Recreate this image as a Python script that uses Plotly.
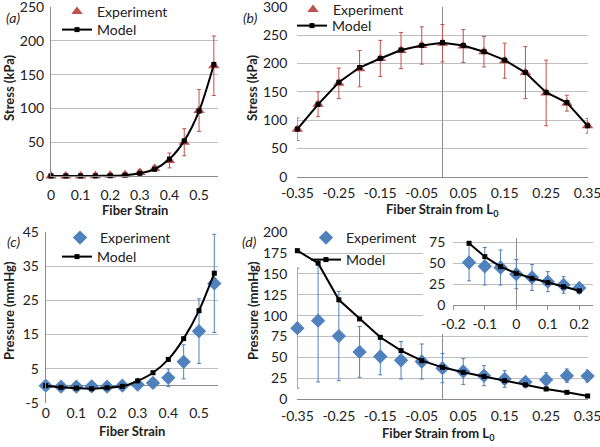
import plotly.graph_objects as go

# ---------------- data ----------------
strain_a = [0, 0.05, 0.1, 0.15, 0.2, 0.25, 0.3, 0.35, 0.4, 0.45, 0.5, 0.55]
stress_exp_a = [0, 0, 0, 0.3, 1, 2, 5, 11, 23, 50, 97, 163]
stress_err_a = [0.5, 0.5, 0.5, 1, 1.5, 3, 4, 4, 11, 20, 31, 44]
stress_model_a = [0, 0, 0, 0.1, 0.4, 1.2, 4, 10, 25, 52, 96, 165]

strain_b = [-0.35, -0.3, -0.25, -0.2, -0.15, -0.1, -0.05, 0, 0.05, 0.1, 0.15, 0.2, 0.25, 0.3, 0.35]
stress_exp_b = [84, 128, 165, 191, 209, 223, 232, 236, 231, 221, 205, 184, 148, 130, 90]
stress_err_b = [20, 22, 27, 32, 32, 32, 33, 33, 29, 27, 31, 46, 58, 14, 13]
stress_model_b = [84, 128, 167, 193, 209, 224, 232, 237, 232, 221, 206, 184, 149, 131, 90]

pressure_exp_c = [0, -0.3, -0.3, -0.2, -0.3, 0, 0.3, 0.8, 2.3, 7, 16, 30]
pressure_err_c = [0.3, 0.3, 0.3, 0.3, 0.3, 0.3, 0.6, 1, 2.6, 5, 9.5, 14.4]
pressure_model_c = [0, -0.5, -0.7, -0.9, -0.6, -0.2, 1.4, 3.8, 7.7, 13.8, 22, 33]

pressure_exp_d = [85, 94, 75.5, 56.5, 51, 46.5, 45, 37, 33, 28, 24, 20.5, 23, 28, 27.5]
pressure_err_d = [72, 73.5, 53.5, 30.5, 22, 22.5, 21, 17.5, 15.5, 12, 10, 4.5, 8.5, 8, 7.5]
pressure_model_d = [178, 163, 119, 96, 74, 58, 46, 38, 32, 27, 22, 17, 12, 8, 3.6]

inset_from, inset_to = -0.15, 0.2

ticks_a_vals = [0, 0.1, 0.2, 0.3, 0.4, 0.5]
ticks_a_text = ["0", "0.1", "0.2", "0.3", "0.4", "0.5"]
ticks_b_vals = [-0.35, -0.25, -0.15, -0.05, 0.05, 0.15, 0.25, 0.35]
ticks_b_text = ["-0.35", "-0.25", "-0.15", "-0.05", "0.05", "0.15", "0.25", "0.35"]
ticks_c_yvals = [-5, 5, 15, 25, 35, 45]
ticks_c_ytext = ["-5", "5", "15", "25", "35", "45"]
ticks_in_vals = [-0.2, -0.1, 0, 0.1, 0.2]
ticks_in_text = ["-0.2", "-0.1", "0", "0.1", "0.2"]

# ---------------- style ----------------
W, H = 600, 447
RED = "#C0504D"
BLUE = "#4F81BD"
GRID = "#BEBEBE"
AXL = "#8C8C8C"
FONT = "Lato"
TICKF = dict(family=FONT, size=14, color="#222")


def px_x(a, b):
    return [a / W, b / W]


def px_y(top, bottom):
    return [1 - bottom / H, 1 - top / H]


fig = go.Figure()


def exp_trace(x, y, err, color, symbol, size, xa, ya, legend):
    return go.Scatter(
        x=x, y=y, mode="markers", name="Experiment", cliponaxis=False,
        marker=dict(symbol=symbol, size=size, color=color),
        error_y=dict(type="data", array=err, color=color, thickness=1, width=2),
        xaxis=xa, yaxis=ya, legend=legend,
    )


def model_trace(x, y, xa, ya, legend, shape):
    return go.Scatter(
        x=x, y=y, mode="lines+markers", name="Model", cliponaxis=False,
        line=dict(color="black", width=2, shape=shape, smoothing=0.8),
        marker=dict(symbol="square", size=5, color="black"),
        xaxis=xa, yaxis=ya, legend=legend,
    )


# (a)
fig.add_trace(exp_trace(strain_a, stress_exp_a, stress_err_a, RED, "triangle-up", 10, "x", "y", "legend"))
fig.add_trace(model_trace(strain_a, stress_model_a, "x", "y", "legend2", "spline"))
# (b)
fig.add_trace(exp_trace(strain_b, stress_exp_b, stress_err_b, RED, "triangle-up", 10, "x2", "y2", "legend3"))
fig.add_trace(model_trace(strain_b, stress_model_b, "x2", "y2", "legend4", "linear"))
# (c)
fig.add_trace(exp_trace(strain_a, pressure_exp_c, pressure_err_c, BLUE, "diamond", 11, "x3", "y3", "legend5"))
fig.add_trace(model_trace(strain_a, pressure_model_c, "x3", "y3", "legend6", "spline"))
# (d)
fig.add_trace(exp_trace(strain_b, pressure_exp_d, pressure_err_d, BLUE, "diamond", 11, "x4", "y4", "legend7"))
fig.add_trace(model_trace(strain_b, pressure_model_d, "x4", "y4", "legend8", "linear"))
# blank cover subplot for the inset box
fig.add_trace(go.Scatter(x=[], y=[], xaxis="x5", yaxis="y5", showlegend=False))
# inset
sel = [i for i, s in enumerate(strain_b) if inset_from - 1e-9 <= s <= inset_to + 1e-9]
ins_x = [strain_b[i] for i in sel]
fig.add_trace(go.Scatter(
    x=ins_x, y=[pressure_exp_d[i] for i in sel], mode="markers", cliponaxis=False,
    marker=dict(symbol="diamond", size=11, color=BLUE),
    error_y=dict(type="data", array=[pressure_err_d[i] for i in sel], color=BLUE, thickness=1, width=2),
    xaxis="x6", yaxis="y6", showlegend=False))
fig.add_trace(go.Scatter(
    x=ins_x, y=[pressure_model_d[i] for i in sel], mode="lines+markers", cliponaxis=False,
    line=dict(color="black", width=2), marker=dict(symbol="square", size=5, color="black"),
    xaxis="x6", yaxis="y6", showlegend=False))

xbase = dict(showgrid=False, tickfont=TICKF, ticks="", automargin=False, ticklabeloverflow="allow")
ybase = dict(showgrid=True, gridcolor=GRID, gridwidth=1, tickfont=TICKF, ticks="", zeroline=False,
             automargin=False, ticklabeloverflow="allow")

layout = dict(
    width=W, height=H, margin=dict(l=0, r=0, t=0, b=0, autoexpand=False),
    paper_bgcolor="white", plot_bgcolor="white", font=dict(family=FONT),
    # (a)
    xaxis=dict(xbase, domain=px_x(51, 218), range=[0, 0.564], tickvals=ticks_a_vals, ticktext=ticks_a_text,
               anchor="y", showline=True, linecolor=AXL, zeroline=False, ticklabelstandoff=6),
    yaxis=dict(ybase, domain=px_y(7, 176), range=[0, 250], dtick=50, anchor="x",
               showline=True, linecolor=AXL, ticklabelstandoff=3),
    # (b)
    xaxis2=dict(xbase, domain=px_x(297.3, 587.7), range=[-0.3502, 0.3502], tickvals=ticks_b_vals,
                ticktext=ticks_b_text, anchor="y2", showline=True, linecolor=AXL, zeroline=True,
                zerolinecolor=AXL, zerolinewidth=1, ticklabelstandoff=3),
    yaxis2=dict(ybase, domain=px_y(7, 176.7), range=[0, 300], dtick=50, anchor="x2", ticklabelstandoff=9),
    # (c)
    xaxis3=dict(xbase, domain=px_x(45.7, 218), range=[0, 0.562], tickvals=ticks_a_vals, ticktext=ticks_a_text,
                anchor="y3", zeroline=False, ticklabelstandoff=0),
    yaxis3=dict(ybase, domain=px_y(232.3, 402.7), range=[-5, 45], tickvals=ticks_c_yvals, ticktext=ticks_c_ytext,
                anchor="x3", showline=True, linecolor=AXL, zeroline=True, zerolinecolor=AXL, zerolinewidth=1,
                ticklabelstandoff=3),
    # (d)
    xaxis4=dict(xbase, domain=px_x(297.3, 587.7), range=[-0.3502, 0.3502], tickvals=ticks_b_vals,
                ticktext=ticks_b_text, anchor="y4", showline=True, linecolor=AXL, zeroline=True,
                zerolinecolor=AXL, zerolinewidth=1, ticklabelstandoff=4),
    yaxis4=dict(ybase, domain=px_y(232.3, 399), range=[0, 200], dtick=25, anchor="x4", ticklabelstandoff=9),
    # blank cover
    xaxis5=dict(domain=px_x(423, 600), range=[0, 1], showgrid=False, zeroline=False, showticklabels=False,
                showline=False, ticks="", anchor="y5", automargin=False),
    yaxis5=dict(domain=px_y(226, 334), range=[0, 1], showgrid=False, zeroline=False, showticklabels=False,
                showline=False, ticks="", anchor="x5", automargin=False),
    # inset
    xaxis6=dict(xbase, domain=px_x(453.3, 593.3), range=[-0.2, 0.2444], tickvals=ticks_in_vals,
                ticktext=ticks_in_text, anchor="y6", showline=True, linecolor=AXL, zeroline=True,
                zerolinecolor=AXL, zerolinewidth=1, ticks="outside", ticklen=4, tickcolor=AXL,
                ticklabelstandoff=2),
    yaxis6=dict(ybase, domain=px_y(238.3, 305), range=[0, 80], tickvals=[0, 25, 50, 75], anchor="x6",
                ticklabelstandoff=7),
)

legend_common = dict(bgcolor="rgba(255,255,255,0)", font=dict(family=FONT, size=14, color="#222"),
                     xanchor="left", yanchor="top", itemwidth=30)
# (text start x, row centre y) of every legend entry, in pixels
legend_pos = {
    "legend": (97, 13), "legend2": (97, 31),
    "legend3": (333, 11), "legend4": (332, 27),
    "legend5": (100, 239), "legend6": (97, 258),
    "legend7": (346, 239), "legend8": (346, 261),
}
for name, (tx, ty) in legend_pos.items():
    layout[name] = dict(legend_common, x=(tx - 40) / W, y=1 - (ty - 17) / H)

ann = []
TT = dict(family=FONT, size=13, color="#222")
for text, x, y in [("<b>Fiber Strain</b>", 135, 210), ("<b>Fiber Strain from L<sub>0</sub></b>", 442, 210),
                   ("<b>Fiber Strain</b>", 132, 431), ("<b>Fiber Strain from L<sub>0</sub></b>", 438, 434)]:
    ann.append(dict(text=text, x=x / W, y=1 - y / H, xref="paper", yref="paper", showarrow=False,
                    xanchor="center", yanchor="middle", font=TT))
for text, x, y in [("<b>Stress (kPa)</b>", 9, 88), ("<b>Stress (kPa)</b>", 252, 88),
                   ("<b>Pressure (mmHg)</b>", 9, 311), ("<b>Pressure (mmHg)</b>", 253, 311)]:
    ann.append(dict(text=text, x=x / W, y=1 - y / H, xref="paper", yref="paper", showarrow=False,
                    xanchor="center", yanchor="middle", textangle=-90, font=TT))
for text, x, y in [("(a)", 13, 17), ("(b)", 250, 17), ("(c)", 13, 242), ("(d)", 249, 242)]:
    ann.append(dict(text="<i>" + text + "</i>", x=x / W, y=1 - y / H, xref="paper", yref="paper",
                    showarrow=False, xanchor="center", yanchor="middle",
                    font=dict(family=FONT, size=14, color="#222")))
layout["annotations"] = ann

fig.update_layout(**layout)
fig.write_html("out.html", config={"displayModeBar": False},
               post_script="document.body.style.margin='0px';")
